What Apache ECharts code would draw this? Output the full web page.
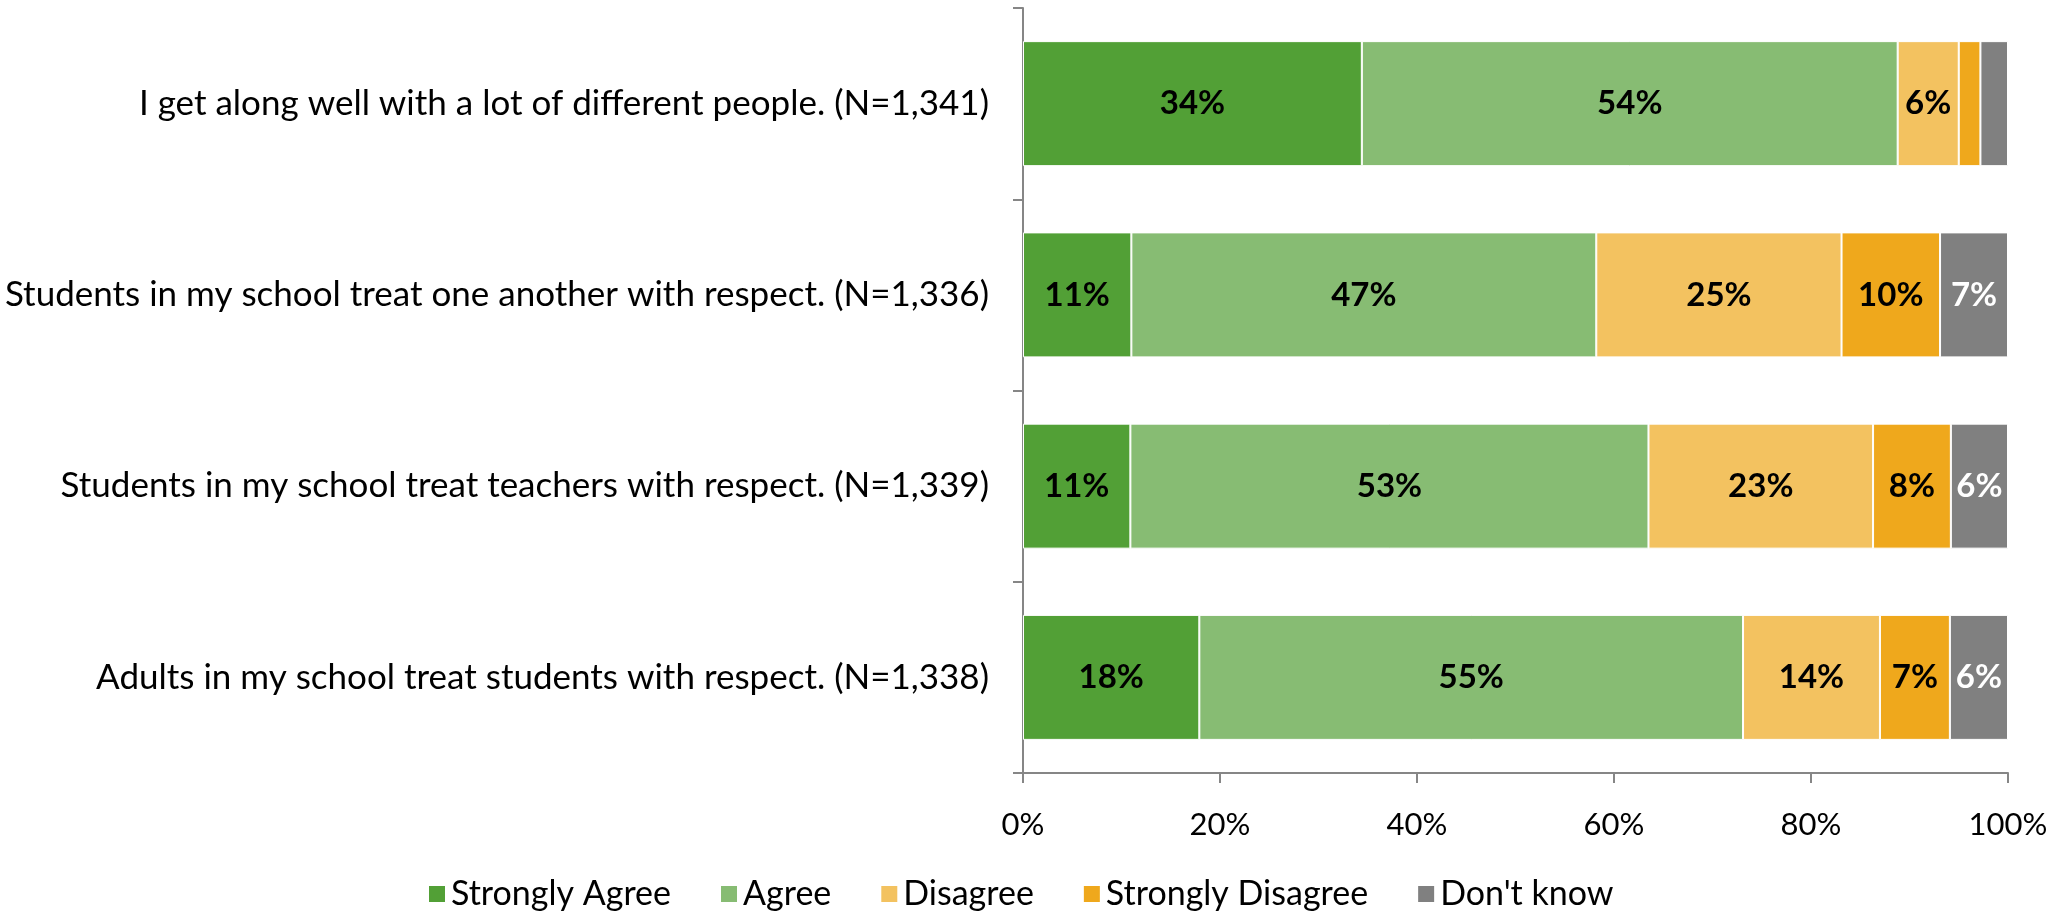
<!DOCTYPE html>
<html>
<head>
<meta charset="utf-8">
<script src="https://cdn.jsdelivr.net/npm/echarts@6/dist/echarts.min.js"></script>
<style>
  html, body { margin: 0; padding: 0; background: #fff; }
  #chart { width: 2069px; height: 911px; }
</style>
</head>
<body>
<div id="chart"></div>
<script>
var categories = [
    "I get along well with a lot of different people. (N=1,341)",
    "Students in my school treat one another with respect. (N=1,336)",
    "Students in my school treat teachers with respect. (N=1,339)",
    "Adults in my school treat students with respect. (N=1,338)"
];
var seriesNames = ["Strongly Agree", "Agree", "Disagree", "Strongly Disagree", "Don't know"];
var strongAgree = [34.4, 11.0, 10.9, 17.9];
var agree = [54.4, 47.2, 52.6, 55.2];
var disagree = [6.2, 24.9, 22.8, 13.9];
var strongDisagree = [2.2, 10.0, 7.9, 7.1];
var dontKnow = [2.8, 6.9, 5.8, 5.9];
var xTicks = [0, 20, 40, 60, 80, 100];

var colors = ['#52a036', '#87bc73', '#f3c260', '#efa81c', '#808080'];
var labelColors = ['#000', '#000', '#000', '#000', '#fff'];
var font = 'Lato';

var allData = [strongAgree, agree, disagree, strongDisagree, dontKnow];
var series = [];
for (var i = 0; i < allData.length; i++) {
    series.push({
        name: seriesNames[i],
        type: 'bar',
        stack: 'total',
        barWidth: 125,
        data: allData[i],
        itemStyle: { color: colors[i], borderColor: '#fff', borderWidth: 1 },
        label: {
            show: true,
            position: 'inside',
            color: labelColors[i],
            fontFamily: font,
            fontWeight: 'bold',
            fontSize: 33,
            formatter: function (p) {
                return p.value < 5 ? '' : Math.round(p.value) + '%';
            }
        }
    });
}

var option = {
    animation: false,
    color: colors,
    grid: { left: 1023, right: 61, top: 8, bottom: 138 },
    legend: {
        top: 872,
        left: 422,
        icon: 'rect',
        itemWidth: 18,
        itemHeight: 18,
        itemGap: 48,
        textStyle: { fontFamily: font, fontSize: 34, color: '#000' },
        data: seriesNames
    },
    xAxis: {
        type: 'value',
        min: 0,
        max: 100,
        interval: 20,
        splitLine: { show: false },
        axisLine: { show: true, lineStyle: { color: '#868686', width: 2 } },
        axisTick: { show: true, length: 10, lineStyle: { color: '#868686', width: 2 } },
        axisLabel: {
            margin: 36,
            fontFamily: font,
            fontSize: 31,
            color: '#000',
            formatter: function (v) { return xTicks.indexOf(v) >= 0 ? v + '%' : ''; }
        }
    },
    yAxis: {
        type: 'category',
        inverse: true,
        data: categories,
        axisLine: { show: true, lineStyle: { color: '#868686', width: 2 } },
        axisTick: { show: true, length: 10, lineStyle: { color: '#868686', width: 2 } },
        axisLabel: {
            margin: 34,
            fontFamily: font,
            fontSize: 35,
            color: '#000'
        }
    },
    series: series
};

var myChart = echarts.init(document.getElementById('chart'));
myChart.setOption(option);
</script>
</body>
</html>
